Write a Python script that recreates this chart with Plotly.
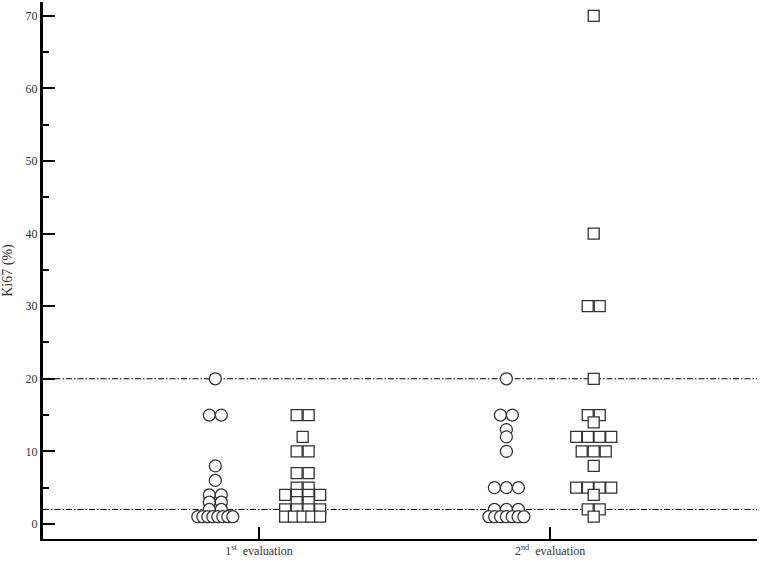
import plotly.graph_objects as go
from collections import Counter

# %% data (Ki67 %, one value per case)
first_circles = [20, 15, 15, 8, 6, 4, 4, 3, 3, 2, 2, 1, 1, 1, 1, 1, 1, 1, 1]
first_squares = [15, 15, 12, 10, 10, 7, 7, 5, 5, 4, 4, 4, 4, 3, 3, 2, 2, 2, 2, 1, 1, 1, 1, 1]
second_circles = [20, 15, 15, 13, 12, 10, 5, 5, 5, 2, 2, 2, 1, 1, 1, 1, 1, 1, 1]
second_squares = [70, 40, 30, 30, 20, 15, 15, 14, 12, 12, 12, 12, 10, 10, 10, 8,
                  5, 5, 5, 5, 4, 2, 2, 1]

categories = ["1<sup>st</sup>  evaluation", "2<sup>nd</sup>  evaluation"]
cat_pos = [1, 2]
cutoffs = [2, 20]
y_ticks = [0, 10, 20, 30, 40, 50, 60, 70]

# %% layout geometry
W, H = 772, 561
M = dict(l=43, r=15, t=2, b=22)
x_range = [0.258, 2.711]
px_per_unit = (W - M["l"] - M["r"]) / (x_range[1] - x_range[0])


def dot_x(values, center, step_px=12, span_px=35):
    # spread equal values side by side around the group centre
    counts = Counter(values)
    seen = Counter()
    xs = []
    for v in values:
        k = counts[v]
        s = step_px if k == 1 else min(step_px, span_px / (k - 1))
        xs.append(center + (seen[v] - (k - 1) / 2) * s / px_per_unit)
        seen[v] += 1
    return xs


groups = [
    (first_circles, cat_pos[0] - 0.15, "circle"),
    (first_squares, cat_pos[0] + 0.15, "square"),
    (second_circles, cat_pos[1] - 0.15, "circle"),
    (second_squares, cat_pos[1] + 0.15, "square"),
]

fig = go.Figure()
for vals, c, sym in groups:
    fig.add_trace(go.Scatter(
        x=dot_x(vals, c), y=vals, mode="markers", showlegend=False,
        marker=dict(symbol=sym, size=11 if sym == "square" else 12, color="white",
                    line=dict(color="#333333", width=1.3)),
        cliponaxis=False,
    ))

for yv in cutoffs:
    fig.add_hline(y=yv, line=dict(color="black", width=1, dash="6px,2px,1.5px,2px"),
                  layer="below")

font = dict(family="Liberation Serif, Times New Roman, serif", size=12, color="#333333")

fig.update_layout(
    width=W, height=H, margin=M,
    plot_bgcolor="white", paper_bgcolor="white",
    font=font,
)
fig.update_xaxes(
    range=x_range, showgrid=False, zeroline=False,
    showline=True, linecolor="black", linewidth=2,
    tickvals=cat_pos, ticktext=categories,
    ticks="inside", ticklen=12, tickwidth=2, tickcolor="black",
    automargin=False,
)
fig.update_yaxes(
    range=[-2.07, 71.9], showgrid=False, zeroline=False,
    showline=True, linecolor="black", linewidth=3,
    tickvals=y_ticks, ticks="inside", ticklen=12, tickwidth=2, tickcolor="black",
    minor=dict(dtick=5, tick0=0, ticks="inside", ticklen=6, tickwidth=1.5,
               tickcolor="black", showgrid=False),
    title=dict(text="Ki67 (%)", standoff=10), automargin=False,
)

# page body has a default 8px margin; drop it so the figure sits at 0,0
fig.write_html("out.html", config={"displayModeBar": False},
               post_script="document.body.style.margin='0';")
